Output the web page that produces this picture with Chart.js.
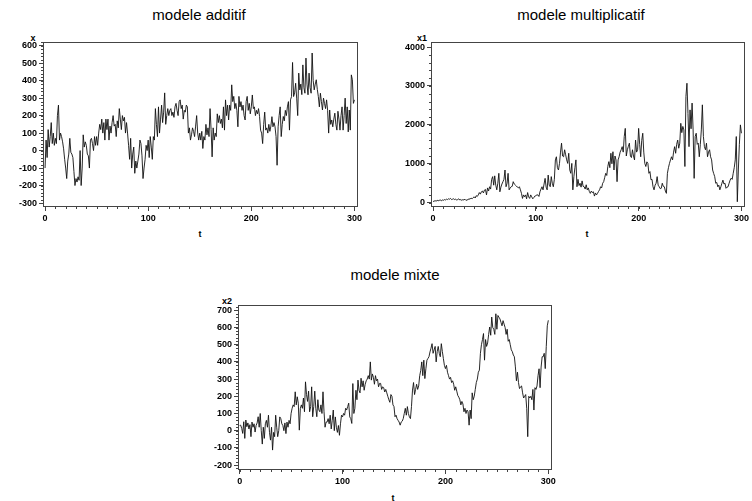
<!DOCTYPE html>
<html>
<head>
<meta charset="utf-8">
<script src="https://cdn.jsdelivr.net/npm/chart.js@4.4.1/dist/chart.umd.min.js"></script>
<style>
  body { margin: 0; background: #fff; width: 752px; height: 501px; position: relative; overflow: hidden; font-family: "Liberation Sans", Arial, sans-serif; }
  canvas { position: absolute; }
  .title { position: absolute; font-size: 15px; line-height: 18px; color: #000; text-align: center; white-space: nowrap; transform: translateX(-50%); }
  .lab { position: absolute; font-size: 9px; font-weight: bold; line-height: 10px; color: #000; transform: translateX(-50%); }
</style>
</head>
<body>
<div class="title" style="left:199px;top:6px">modele additif</div>
<div class="title" style="left:581px;top:6px">modele multiplicatif</div>
<div class="title" style="left:395px;top:266px">modele mixte</div>
<div class="lab" style="left:33px;top:33px">x</div>
<div class="lab" style="left:422px;top:33px">x1</div>
<div class="lab" style="left:227px;top:296px">x2</div>
<div class="lab" style="left:200px;top:229px">t</div>
<div class="lab" style="left:587px;top:229px">t</div>
<div class="lab" style="left:393px;top:493px">t</div>
<canvas id="c1" width="375" height="200" style="left:0;top:30px"></canvas>
<canvas id="c2" width="372" height="200" style="left:380px;top:30px"></canvas>
<canvas id="c3" width="380" height="200" style="left:190px;top:290px"></canvas>
<script>
// time index 0..300
const tValues = Array.from({ length: 301 }, (_, i) => i);
const xTicks = [0, 100, 200, 300];

// modele additif
const additif = [
  -100, 60, -40, 120, 20, 80, 160, 40, 100, 30,
  70, 40, 200, 260, 60, 100, 80, 50, 10, -50,
  -100, -160, -60, -20, 70, -10, -20, -40, -120, -200,
  -160, -180, -150, -170, 0, -200, -100, 90, 20, 50,
  30, -20, -30, -100, 60, 70, 40, 0, 80, 30,
  80, 30, 100, 150, 120, 180, 100, 160, 60, 180,
  120, 180, 60, 140, 100, 160, 200, 140, 150, 80,
  170, 130, 240, 180, 120, 200, 170, 190, 100, 160,
  100, 30, -50, 70, -100, -20, 20, -130, -60, -100,
  -60, -20, 60, 40, -30, -160, -100, -50, 30, 0,
  60, -40, 80, 20, -50, 80, 60, 240, 150, 80,
  250, 100, 180, 260, 160, 220, 330, 150, 200, 240,
  200, 230, 240, 200, 220, 190, 250, 270, 230, 200,
  280, 290, 240, 260, 180, 230, 220, 260, 250, 100,
  130, 60, 90, 130, 110, 80, 140, 200, 100, 60,
  100, 60, 110, 12, 80, 60, 150, 90, 130, 80,
  240, 120, -36, 130, 60, 100, 80, 210, 160, 200,
  155, 180, 130, 250, 117, 290, 200, 260, 175, 260,
  230, 376, 280, 310, 240, 270, 230, 136, 310, 250,
  280, 230, 260, 200, 175, 280, 310, 230, 270, 210,
  250, 318, 240, 250, 200, 230, 210, 240, 195, 117,
  100, 40, 150, 220, 117, 130, 100, 150, 110, 140,
  194, 136, 160, 136, 80, -84, 136, 200, 250, 80,
  150, 195, 170, 230, 200, 250, 280, 117, 290, 309,
  504, 309, 330, 385, 300, 200, 443, 347, 380, 320,
  490, 360, 328, 529, 380, 319, 443, 360, 328, 558,
  400, 347, 380, 405, 350, 309, 250, 328, 280, 232,
  300, 270, 240, 290, 230, 100, 232, 150, 175, 136,
  180, 214, 150, 117, 225, 180, 117, 200, 250, 117,
  200, 300, 155, 250, 107, 232, 117, 433, 405, 270,
  290
];
const additifTicks = [-300, -200, -100, 0, 100, 200, 300, 400, 500, 600];

// modele multiplicatif
const multiplicatif = [
  30, 40, 50, 40, 60, 50, 60, 70, 50, 70,
  60, 80, 70, 90, 80, 100, 90, 110, 80, 90,
  100, 80, 90, 70, 80, 100, 70, 80, 60, 80,
  70, 90, 60, 70, 80, 100, 90, 120, 100, 130,
  150, 120, 180, 160, 200, 260, 220, 280, 300, 250,
  325, 340, 200, 380, 300, 410, 350, 600, 670, 450,
  690, 450, 330, 500, 755, 280, 400, 480, 540, 600,
  840, 410, 500, 755, 330, 380, 410, 420, 540, 480,
  455, 430, 400, 380, 410, 330, 240, 110, 200, 150,
  200, 100, 260, 150, 110, 200, 150, 100, 130, 170,
  180, 200, 200, 160, 280, 350, 410, 330, 480, 625,
  400, 330, 710, 450, 410, 670, 500, 410, 600, 1100,
  1180, 900, 840, 1010, 1300, 1530, 1200, 1180, 1360, 1230,
  1100, 1010, 1270, 840, 755, 1010, 330, 670, 900, 1100,
  410, 600, 440, 500, 400, 560, 420, 410, 350, 460,
  330, 380, 290, 240, 300, 260, 280, 170, 250, 200,
  240, 290, 330, 410, 380, 500, 540, 650, 755, 700,
  930, 1055, 900, 1270, 1000, 1310, 840, 1200, 1100, 540,
  1100, 1180, 1300, 1360, 1440, 1300, 1700, 1910, 1200, 1360,
  1450, 1530, 1200, 1160, 1360, 1200, 1100, 1610, 1300, 1360,
  1910, 1500, 1180, 1600, 1785, 1300, 1010, 930, 1050, 1010,
  755, 800, 590, 600, 410, 330, 450, 500, 670, 450,
  410, 360, 370, 500, 420, 410, 300, 240, 755, 900,
  1010, 1100, 1180, 1100, 1300, 1440, 1270, 1500, 1610, 1400,
  1530, 2040, 1800, 1960, 1870, 930, 2730, 3070, 2290, 1440,
  2385, 1900, 2560, 1870, 625, 1700, 1785, 1500, 1530, 1180,
  1500, 1870, 2515, 1700, 1440, 1360, 1530, 1180, 1300, 1360,
  1180, 1100, 840, 750, 670, 500, 520, 410, 450, 330,
  410, 500, 580, 480, 500, 370, 400, 410, 500, 580,
  630, 600, 755, 900, 1100, 1700, 25, 840, 1500, 2000,
  1785
];
const multiplicatifTicks = [0, 1000, 2000, 3000, 4000];

// modele mixte
const mixte = [
  30, 32, 13, -16, 52, -45, 62, 23, 45, 10,
  35, -35, 50, 20, 40, -8, 30, 45, 81, 20,
  100, 0, -78, 20, -45, 40, 60, 20, 90, -10,
  -55, 20, -113, -10, -35, 90, 20, -35, 0, 80,
  70, 40, 30, 0, 45, -17, 50, 20, 60, 40,
  100, 130, 150, 140, 226, 150, 197, 160, 3, 130,
  150, 130, 190, 110, 284, 210, 170, 230, 110, 140,
  255, 81, 140, 230, 130, 81, 180, 120, 110, 150,
  100, 226, 110, 20, 50, 50, 70, 40, 90, 10,
  60, 120, 0, 80, 20, -10, 30, -27, 40, 90,
  80, 100, 90, 130, 120, 140, 160, 80, 70, 42,
  274, 100, 130, 235, 180, 294, 235, 220, 305, 255,
  290, 235, 270, 290, 300, 320, 300, 400, 294, 330,
  310, 270, 320, 290, 300, 255, 275, 275, 240, 255,
  250, 225, 240, 220, 200, 180, 165, 210, 200, 150,
  140, 81, 90, 70, 60, 50, 32, 50, 55, 70,
  100, 130, 90, 140, 100, 80, 70, 140, 236, 280,
  210, 240, 270, 240, 260, 320, 350, 400, 320, 410,
  303, 360, 410, 420, 430, 458, 480, 506, 450, 470,
  490, 400, 460, 490, 450, 430, 506, 460, 420, 380,
  361, 380, 340, 320, 300, 310, 280, 290, 270, 235,
  255, 230, 205, 195, 180, 150, 170, 155, 110, 130,
  100, 120, 110, 32, 120, 70, 220, 180, 200, 240,
  280, 300, 340, 352, 450, 500, 530, 565, 410, 530,
  490, 510, 560, 603, 555, 661, 600, 590, 560, 680,
  590, 670, 660, 650, 630, 610, 640, 620, 600, 560,
  590, 520, 530, 500, 470, 460, 440, 430, 371, 290,
  340, 280, 245, 255, 260, 220, 190, 200, 210, 130,
  -35, 200, 190, 200, 180, 240, 120, 250, 240, 260,
  320, 360, 250, 370, 430, 430, 450, 361, 490, 610,
  642
];
const mixteTicks = [-200, -100, 0, 100, 200, 300, 400, 500, 600, 700];

const AXIS = '#444';
const tickFont = { family: '"Liberation Sans", Arial, sans-serif', size: 9, weight: 'bold' };

// frame around the plot + minor tick marks on both axes
const framePlugin = {
  id: 'frame',
  afterDraw(chart, args, opts) {
    const { ctx, chartArea: a, scales } = chart;
    ctx.save();
    ctx.strokeStyle = AXIS;
    ctx.lineWidth = 1;
    ctx.strokeRect(Math.round(a.left) + 0.5, Math.round(a.top) + 0.5,
      Math.round(a.right - a.left), Math.round(a.bottom - a.top));
    ctx.beginPath();
    const xs = scales.x;
    for (let v = Math.ceil(xs.min / opts.xStep) * opts.xStep; v <= xs.max; v += opts.xStep) {
      const px = Math.round(xs.getPixelForValue(v)) + 0.5;
      ctx.moveTo(px, Math.round(a.bottom) + 0.5);
      ctx.lineTo(px, Math.round(a.bottom) + 3);
    }
    const ys = scales.y;
    for (let v = Math.ceil(ys.min / opts.yStep) * opts.yStep; v <= ys.max; v += opts.yStep) {
      const py = Math.round(ys.getPixelForValue(v)) + 0.5;
      ctx.moveTo(Math.round(a.left) + 0.5, py);
      ctx.lineTo(Math.round(a.left) - 2, py);
    }
    ctx.stroke();
    ctx.restore();
  }
};

function makePanel(id, values, yTicks, cfg) {
  return new Chart(document.getElementById(id), {
    type: 'line',
    data: {
      datasets: [{
        data: values.map((v, i) => ({ x: tValues[i], y: v })),
        borderColor: '#111',
        borderWidth: 0.9,
        pointRadius: 0,
        tension: 0,
      }]
    },
    options: {
      responsive: false,
      devicePixelRatio: 1,
      animation: false,
      layout: { padding: cfg.padding },
      plugins: {
        legend: { display: false },
        tooltip: { enabled: false },
        frame: { xStep: 10, yStep: cfg.yMinor },
      },
      scales: {
        x: {
          type: 'linear',
          min: cfg.xMin, max: cfg.xMax,
          afterBuildTicks: s => { s.ticks = xTicks.map(v => ({ value: v })); },
          afterFit: s => { s.height = cfg.xH; },
          grid: { drawOnChartArea: false, tickLength: 5, tickColor: AXIS },
          border: { display: false },
          ticks: { font: tickFont, color: '#000', padding: 2, maxRotation: 0, callback: v => String(v) },
        },
        y: {
          min: cfg.yMin, max: cfg.yMax,
          afterBuildTicks: s => { s.ticks = yTicks.map(v => ({ value: v })); },
          afterFit: s => { s.width = cfg.yW; },
          grid: { drawOnChartArea: false, tickLength: 4, tickColor: AXIS },
          border: { display: false },
          ticks: { font: tickFont, color: '#000', padding: 2, callback: v => String(v) },
        }
      }
    },
    plugins: [framePlugin]
  });
}

makePanel('c1', additif, additifTicks, {
  padding: { left: 0, top: 12, right: 18, bottom: 0 },
  xMin: -2, xMax: 302.5, yMin: -317, yMax: 621, xH: 24, yW: 43, yMinor: 20,
});
makePanel('c2', multiplicatif, multiplicatifTicks, {
  padding: { left: 0, top: 12, right: 8, bottom: 0 },
  xMin: -2, xMax: 302.5, yMin: -85, yMax: 4130, xH: 24, yW: 51, yMinor: 200,
});
makePanel('c3', mixte, mixteTicks, {
  padding: { left: 0, top: 15, right: 19, bottom: 0 },
  xMin: -1.6, xMax: 302.6, yMin: -223, yMax: 731, xH: 21, yW: 48, yMinor: 20,
});
</script>
</body>
</html>
